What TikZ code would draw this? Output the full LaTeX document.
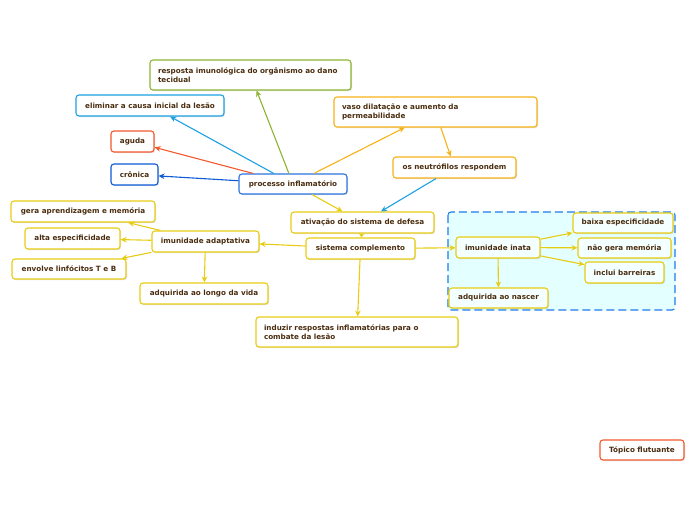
\documentclass[tikz,border=0pt]{standalone}
\usepackage{fontspec}
\setmainfont{DejaVu Sans}[BoldFont={DejaVu Sans Bold}]
\usetikzlibrary{arrows.meta,shadows}
\definecolor{txt}{RGB}{75,45,15}
\definecolor{cyel}{RGB}{232,204,20}
\definecolor{cora}{RGB}{247,178,24}
\definecolor{cgrn}{RGB}{140,180,50}
\definecolor{clbl}{RGB}{27,161,226}
\definecolor{cdbl}{RGB}{12,90,215}
\definecolor{cproc}{RGB}{45,115,225}
\definecolor{cred}{RGB}{242,88,44}
\definecolor{cregion}{RGB}{228,255,255}
\definecolor{cregb}{RGB}{28,125,235}
\tikzset{
  box/.style={draw=#1, line width=1.1pt, fill=white, rounded corners=3pt,
    inner sep=0pt, font=\fontsize{7.2}{9}\selectfont\bfseries, text=txt,
    drop shadow={shadow xshift=1pt, shadow yshift=-1.2pt, opacity=0.25}},
  conn/.style={draw=#1, line width=1.1pt, -{Stealth[length=6pt,width=5.5pt]}},
  sz/.style 2 args={minimum width=#1pt, minimum height=#2pt},
}
\begin{document}
\begin{tikzpicture}[x=1pt,y=-1pt]
\useasboundingbox (0,0) rectangle (696,520);
% region
\draw[draw=cregb, fill=cregion, line width=1.1pt, dash pattern=on 8pt off 4pt, rounded corners=3pt] (448,212) rectangle (675,310);
% nodes
\node[box=cgrn, sz={201}{30}, text width=185pt, align=left] (resp) at (250.5,75) {resposta imunológica do orgânismo ao dano\\tecidual};
\node[box=clbl, sz={148}{21}] (elim) at (150,105.5) {eliminar a causa inicial da lesão};
\node[box=cred, sz={43}{21}] (aguda) at (132.5,141.5) {aguda};
\node[box=cdbl, sz={47}{21}] (cron) at (134.5,174.5) {crônica};
\node[box=cproc, sz={108}{20}] (proc) at (293,184) {processo inflamatório};
\node[box=cora, sz={203}{30}, text width=187pt, align=left] (vaso) at (435.5,112) {vaso dilatação e aumento da\\permeabilidade};
\node[box=cora, sz={123}{21}] (neut) at (454.5,167.5) {os neutrófilos respondem};
\node[box=cyel, sz={143}{21}] (ativ) at (362.5,222.5) {ativação do sistema de defesa};
\node[box=cyel, sz={109}{21}] (sist) at (360.5,248.5) {sistema complemento};
\node[box=cyel, sz={107}{21}] (adap) at (205.5,241.5) {imunidade adaptativa};
\node[box=cyel, sz={144}{21}] (gera) at (83,211.5) {gera aprendizagem e memória};
\node[box=cyel, sz={95}{21}] (alta) at (72.5,238.5) {alta especificidade};
\node[box=cyel, sz={114}{20}] (envo) at (69,269) {envolve linfócitos T e B};
\node[box=cyel, sz={128}{21}] (longo) at (204,293.5) {adquirida ao longo da vida};
\node[box=cyel, sz={202}{30}, text width=186pt, align=left] (induz) at (357,332) {induzir respostas inflamatórias para o\\combate da lesão};
\node[box=cyel, fill=cregion!40!white, sz={84}{21}] (inata) at (498,247.5) {imunidade inata};
\node[box=cyel, fill=cregion!40!white, sz={100}{20}] (baixa) at (623,223) {baixa especificidade};
\node[box=cyel, fill=cregion!40!white, sz={93}{20}] (naog) at (624.5,248) {não gera memória};
\node[box=cyel, fill=cregion!40!white, sz={79}{21}] (incl) at (624.5,272.5) {inclui barreiras};
\node[box=cyel, fill=cregion!40!white, sz={99}{20}] (nasc) at (498.5,298) {adquirida ao nascer};
\node[box=cred, sz={84}{20}] (flut) at (642,450) {Tópico flutuante};
% connectors
\draw[conn=cgrn] (proc) -- (resp);
\draw[conn=clbl] (proc) -- (elim);
\draw[conn=cred] (proc) -- (aguda);
\draw[conn=cdbl] (proc) -- (cron);
\draw[conn=cora] (proc) -- (vaso);
\draw[conn=cora] (vaso) -- (neut);
\draw[conn=clbl] (neut) -- (ativ);
\draw[conn=cyel] (proc) -- (ativ);
\draw[conn=cyel, -{Stealth[length=4pt,width=5.5pt]}] (ativ) -- (sist);
\draw[conn=cyel] (sist) -- (adap);
\draw[conn=cyel] (adap) -- (gera);
\draw[conn=cyel] (adap) -- (alta);
\draw[conn=cyel] (adap) -- (envo);
\draw[conn=cyel] (adap) -- (longo);
\draw[conn=cyel] (sist) -- (induz);
\draw[conn=cyel] (sist) -- (inata);
\draw[conn=cyel] (inata) -- (baixa);
\draw[conn=cyel] (inata) -- (naog);
\draw[conn=cyel] (inata) -- (incl);
\draw[conn=cyel] (inata) -- (nasc);
\end{tikzpicture}
\end{document}
